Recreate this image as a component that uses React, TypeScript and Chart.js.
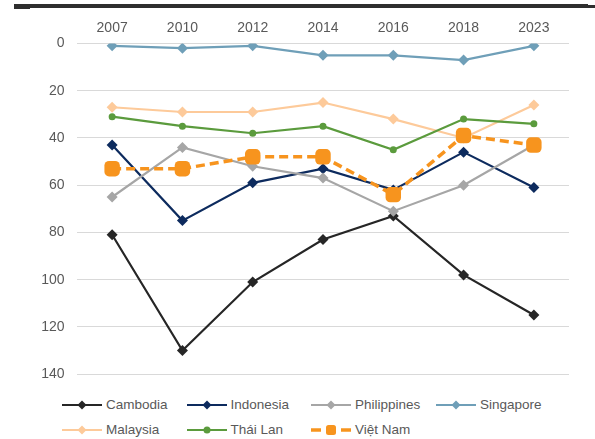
import React, { useEffect, useRef } from "react";
import { Chart, registerables } from "chart.js";

Chart.register(...registerables);

const years = ["2007", "2010", "2012", "2014", "2016", "2018", "2023"];
const cambodia = [81, 130, 101, 83, 73, 98, 115];
const indonesia = [43, 75, 59, 53, 62, 46, 61];
const philippines = [65, 44, 52, 57, 71, 60, 43];
const singapore = [1, 2, 1, 5, 5, 7, 1];
const malaysia = [27, 29, 29, 25, 32, 40, 26];
const thailand = [31, 35, 38, 35, 45, 32, 34];
const vietnam = [53, 53, 48, 48, 64, 39, 43];
const yTicks = [0, 20, 40, 60, 80, 100, 120, 140];

const FONT = "'Liberation Sans', Arial, sans-serif";
const TEXT = "#595959";

type S = {
  label: string;
  data: number[];
  color: string;
  style: string;
  radius: number;
  width: number;
  dash?: number[];
};

const series: S[] = [
  { label: "Cambodia", data: cambodia, color: "#262626", style: "rectRot", radius: 5.5, width: 2.2 },
  { label: "Indonesia", data: indonesia, color: "#0d2b5e", style: "rectRot", radius: 5.5, width: 2.2 },
  { label: "Philippines", data: philippines, color: "#a6a6a6", style: "rectRot", radius: 5.5, width: 2.2 },
  { label: "Singapore", data: singapore, color: "#6f9fb8", style: "rectRot", radius: 5.5, width: 2.2 },
  { label: "Malaysia", data: malaysia, color: "#fdca9a", style: "rectRot", radius: 5.5, width: 2.2 },
  { label: "Thái Lan", data: thailand, color: "#5b9b3d", style: "circle", radius: 3.5, width: 2.2 },
  { label: "Việt Nam", data: vietnam, color: "#f7941e", style: "rectRounded", radius: 9, width: 3.5, dash: [9, 5] },
];

function LegendIcon({ s }: { s: S }) {
  const c = s.color;
  let marker: React.ReactNode;
  if (s.style === "circle") {
    marker = <circle cx={20} cy={8} r={3.5} fill={c} />;
  } else if (s.style === "rectRounded") {
    marker = <rect x={15} y={3} width={10} height={10} rx={2.5} fill={c} />;
  } else {
    marker = <polygon points="20,3.5 24.5,8 20,12.5 15.5,8" fill={c} />;
  }
  return (
    <svg width={40} height={16} style={{ display: "block" }}>
      {s.dash ? (
        <g>
          <line x1={0} y1={8} x2={10} y2={8} stroke={c} strokeWidth={3.5} />
          <line x1={30} y1={8} x2={40} y2={8} stroke={c} strokeWidth={3.5} />
        </g>
      ) : (
        <line x1={0} y1={8} x2={40} y2={8} stroke={c} strokeWidth={2} />
      )}
      {marker}
    </svg>
  );
}

export default function App() {
  const ref = useRef<HTMLCanvasElement>(null);

  useEffect(() => {
    if (!ref.current) return;
    const chart = new Chart(ref.current, {
      type: "line",
      data: {
        labels: years,
        datasets: series.map((s, i) => ({
          label: s.label,
          data: s.data,
          borderColor: s.color,
          backgroundColor: s.color,
          borderWidth: s.width,
          borderDash: s.dash || [],
          pointStyle: s.style as any,
          pointRadius: s.radius,
          pointHoverRadius: s.radius,
          pointBorderWidth: 0,
          pointBackgroundColor: s.color,
          pointBorderColor: s.color,
          tension: 0,
          fill: false,
          order: series.length - i,
        })),
      },
      options: {
        responsive: false,
        animation: false,
        layout: { padding: { left: 0, right: 26, top: 0, bottom: 12 } },
        plugins: {
          legend: { display: false },
          tooltip: { enabled: false },
        },
        scales: {
          x: {
            position: "top",
            offset: true,
            grid: { display: false, drawTicks: false },
            border: { display: false },
            ticks: {
              color: TEXT,
              font: { family: FONT, size: 14 },
              padding: 7,
              maxRotation: 0,
            },
            afterFit: (scale: any) => {
              scale.height = 43.5;
            },
          },
          y: {
            reverse: true,
            min: 0,
            max: 140,
            afterBuildTicks: (scale: any) => {
              scale.ticks = yTicks.map((v) => ({ value: v }));
            },
            grid: { color: "#d9d9d9", lineWidth: 1, drawTicks: false },
            border: { display: false },
            ticks: {
              color: TEXT,
              font: { family: FONT, size: 14 },
              padding: 12.5,
            },
            afterFit: (scale: any) => {
              scale.width = 77;
            },
          },
        },
      },
    });
    return () => chart.destroy();
  }, []);

  const cols = [62, 186.5, 311, 436];
  const rows = [404.5, 430];

  return (
    <div
      style={{
        position: "fixed",
        left: 0,
        top: 0,
        width: 595,
        height: 439,
        background: "#fff",
        overflow: "hidden",
        fontFamily: FONT,
      }}
    >
      <div style={{ position: "absolute", left: 14, top: 4, width: 574, height: 4, background: "#2e2e2e" }} />
      <div style={{ position: "absolute", left: 14, top: 4, width: 16, height: 5, background: "#2e2e2e" }} />
      <div style={{ position: "absolute", left: 587, top: 5, width: 8, height: 3, background: "#2e2e2e" }} />
      <canvas ref={ref} width={595} height={395} style={{ position: "absolute", left: 0, top: 0 }} />
      {series.map((s, i) => {
        const col = i < 4 ? i : i - 4;
        const row = i < 4 ? 0 : 1;
        return (
          <div
            key={s.label}
            style={{
              position: "absolute",
              left: cols[col],
              top: rows[row] - 8,
              height: 16,
              display: "flex",
              alignItems: "center",
              whiteSpace: "nowrap",
            }}
          >
            <LegendIcon s={s} />
            <span style={{ marginLeft: 4, fontSize: 13.5, color: TEXT, lineHeight: "16px" }}>{s.label}</span>
          </div>
        );
      })}
    </div>
  );
}
